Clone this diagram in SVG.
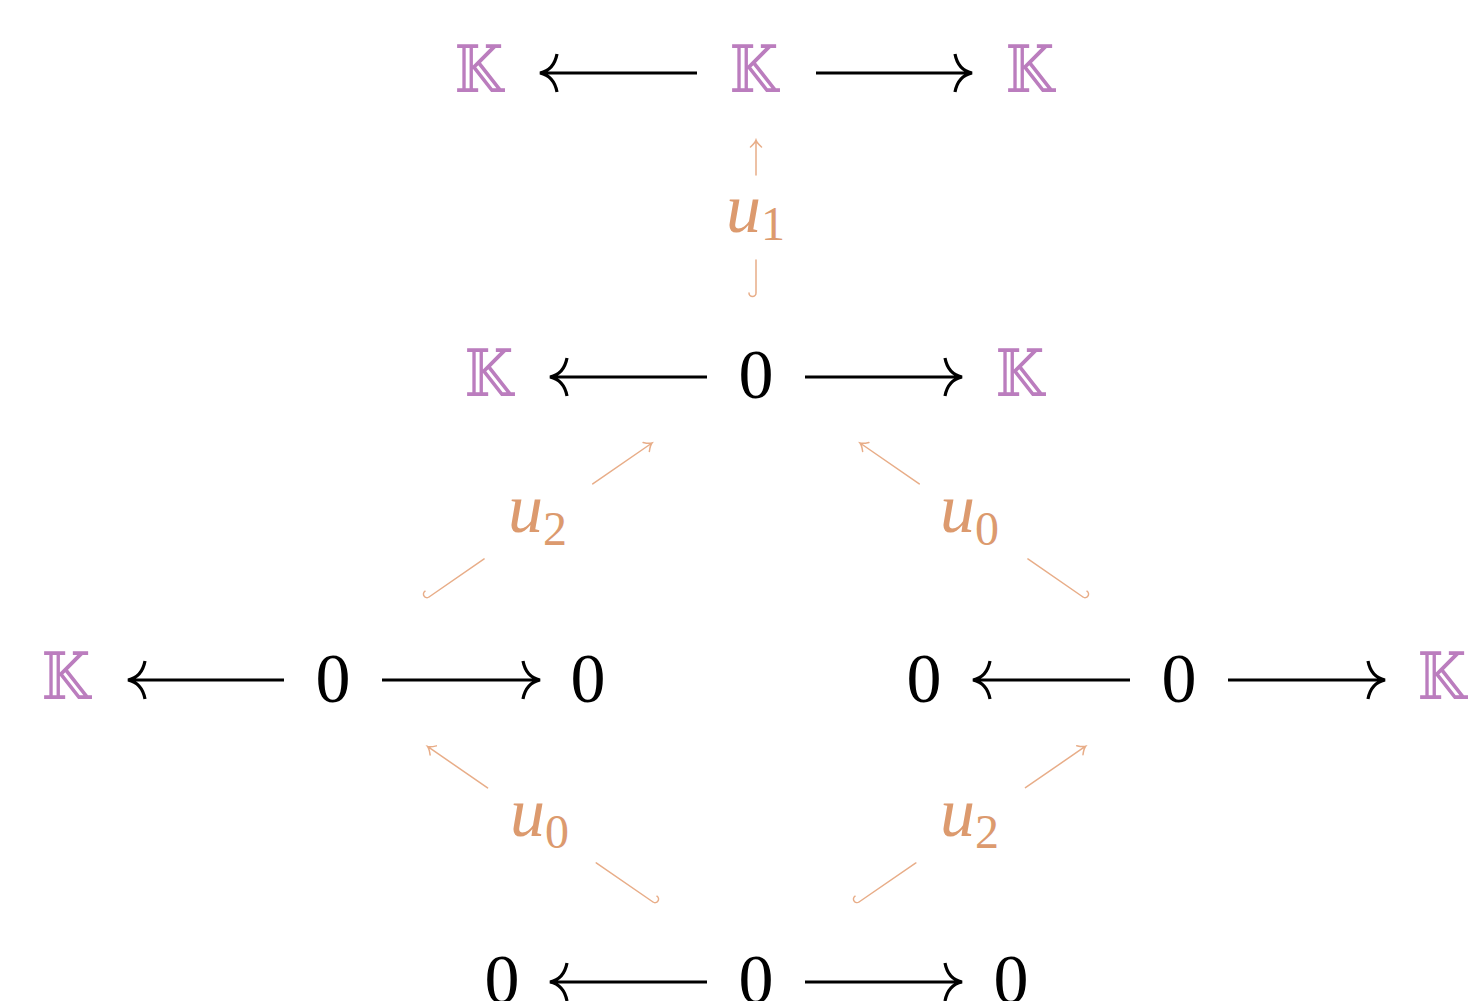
<svg xmlns="http://www.w3.org/2000/svg" width="1473" height="1001" viewBox="0 0 1473 1001">
<style>
.k{font-family:"DejaVu Serif","DejaVu Sans",serif;font-size:66px;fill:#BB7DBE;text-anchor:middle}
.z{font-family:"Liberation Serif",serif;font-size:70px;fill:#000;text-anchor:middle}
.u{font-family:"Liberation Serif",serif;font-style:italic;font-size:70px;fill:#DC9A6E}
.s{font-family:"Liberation Serif",serif;font-size:48px;fill:#DC9A6E}
.bl{stroke:#000;stroke-width:3.2;fill:none}
.th{stroke:#E8AD88;stroke-width:1.5;fill:none;stroke-linecap:round}
</style>
<rect width="1473" height="1001" fill="#fff"/>
<g id="connectors">
  <path class="bl" d="M697,73H542 M557,54 Q554,70 540,73 Q554,76 557,92"/>
  <path class="bl" d="M816,73H970 M955,54 Q958,70 972,73 Q958,76 955,92"/>
  <path class="bl" d="M707,377H552 M567,358 Q564,374 550,377 Q564,380 567,396"/>
  <path class="bl" d="M805,377H960 M945,358 Q948,374 962,377 Q948,380 945,396"/>
  <path class="bl" d="M284,680H130 M145,661 Q142,677 128,680 Q142,683 145,699"/>
  <path class="bl" d="M382,680H538 M523,661 Q526,677 540,680 Q526,683 523,699"/>
  <path class="bl" d="M1130,680H975 M990,661 Q987,677 973,680 Q987,683 990,699"/>
  <path class="bl" d="M1228,680H1383 M1368,661 Q1371,677 1385,680 Q1371,683 1368,699"/>
  <path class="bl" d="M707,982H552 M567,963 Q564,979 550,982 Q564,985 567,1001"/>
  <path class="bl" d="M805,982H960 M945,963 Q948,979 962,982 Q948,985 945,1001"/>
  <g id="arr-u1" transform="translate(756,293) rotate(-90)">
    <path class="th" d="M0,0H33 M118,0H153 M0,0 A3.5,3.5 0 0 1 0,-7 M146,-5.5 Q150,-1 153,0 Q150,1 146,5.5"/>
  </g>
  <g id="arr-u2-top" transform="translate(429,597) rotate(-34.63)">
    <path class="th" d="M0,0H67 M199,0H271 M0,0 A3.5,3.5 0 0 1 0,-7 M264,-5.5 Q268,-1 271,0 Q268,1 264,5.5"/>
  </g>
  <g id="arr-u0-top" transform="translate(1083,597) rotate(-145.37)">
    <path class="th" d="M0,0H67 M199,0H271 M0,0 A3.5,3.5 0 0 0 0,7 M264,-5.5 Q268,-1 271,0 Q268,1 264,5.5"/>
  </g>
  <g id="arr-u0-bot" transform="translate(653,902) rotate(-145.4)">
    <path class="th" d="M0,0H69 M201,0H274 M0,0 A3.5,3.5 0 0 0 0,7 M267,-5.5 Q271,-1 274,0 Q271,1 267,5.5"/>
  </g>
  <g id="arr-u2-bot" transform="translate(859,902) rotate(-34.5)">
    <path class="th" d="M0,0H69 M202,0H275 M0,0 A3.5,3.5 0 0 1 0,-7 M268,-5.5 Q272,-1 275,0 Q272,1 268,5.5"/>
  </g>
</g>
<g id="labels">
  <g id="lab-u1"><text class="u" x="726" y="232">u</text><text class="s" x="761" y="240">1</text></g>
  <g id="lab-u2-top"><text class="u" x="508" y="532">u</text><text class="s" x="543" y="545">2</text></g>
  <g id="lab-u0-top"><text class="u" x="940" y="532">u</text><text class="s" x="975" y="545">0</text></g>
  <g id="lab-u0-bot"><text class="u" x="510" y="836">u</text><text class="s" x="545" y="848">0</text></g>
  <g id="lab-u2-bot"><text class="u" x="940" y="836">u</text><text class="s" x="975" y="848">2</text></g>
</g>
<g id="n11"><text class="k" transform="translate(479,92) scale(0.85,1)">𝕂</text></g>
<g id="n12"><text class="k" transform="translate(754,92) scale(0.85,1)">𝕂</text></g>
<g id="n13"><text class="k" transform="translate(1030,92) scale(0.85,1)">𝕂</text></g>
<g id="n21"><text class="k" transform="translate(489,396) scale(0.85,1)">𝕂</text></g>
<g id="n22"><text class="z" x="756" y="398">0</text></g>
<g id="n23"><text class="k" transform="translate(1020,396) scale(0.85,1)">𝕂</text></g>
<g id="n31"><text class="k" transform="translate(66,699) scale(0.85,1)">𝕂</text></g>
<g id="n32"><text class="z" x="333" y="702">0</text></g>
<g id="n33"><text class="z" x="588" y="702">0</text></g>
<g id="n34"><text class="z" x="924" y="702">0</text></g>
<g id="n35"><text class="z" x="1179" y="702">0</text></g>
<g id="n36"><text class="k" transform="translate(1442,699) scale(0.85,1)">𝕂</text></g>
<g id="n41"><text class="z" x="502" y="1003">0</text></g>
<g id="n42"><text class="z" x="756" y="1003">0</text></g>
<g id="n43"><text class="z" x="1011" y="1003">0</text></g>
</svg>
